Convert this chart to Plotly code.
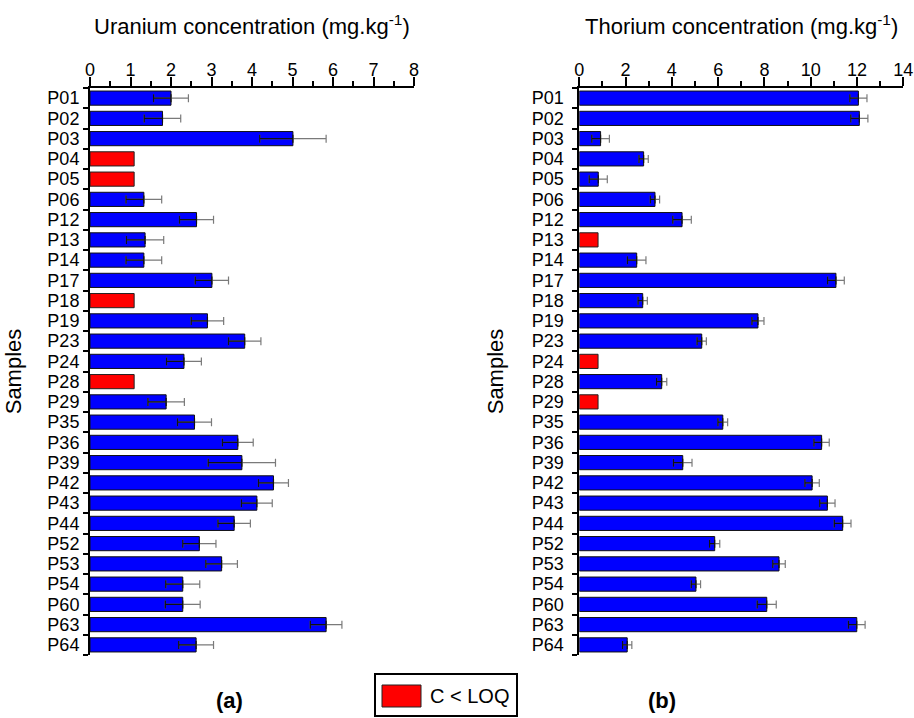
import plotly.graph_objects as go

# Sample identifiers (top to bottom)
samples = ["P01", "P02", "P03", "P04", "P05", "P06", "P12", "P13", "P14", "P17",
           "P18", "P19", "P23", "P24", "P28", "P29", "P35", "P36", "P39", "P42",
           "P43", "P44", "P52", "P53", "P54", "P60", "P63", "P64"]

# Uranium concentration (mg/kg) and uncertainty; None marks C < LOQ
uranium = [2.00, 1.79, 5.01, 1.09, 1.09, 1.33, 2.63, 1.36, 1.33, 3.01,
           1.09, 2.90, 3.82, 2.32, 1.09, 1.88, 2.58, 3.65, 3.75, 4.53,
           4.12, 3.56, 2.70, 3.25, 2.29, 2.29, 5.83, 2.62]
uranium_err = [0.43, 0.45, 0.82, None, None, 0.44, 0.42, 0.46, 0.44, 0.41,
               None, 0.40, 0.40, 0.43, None, 0.45, 0.42, 0.38, 0.83, 0.37,
               0.38, 0.40, 0.41, 0.39, 0.42, 0.43, 0.39, 0.43]

# Thorium concentration (mg/kg) and uncertainty; None marks C < LOQ
thorium = [12.06, 12.10, 0.92, 2.78, 0.82, 3.27, 4.44, 0.81, 2.48, 11.09,
           2.74, 7.72, 5.29, 0.81, 3.56, 0.81, 6.20, 10.47, 4.47, 10.06,
           10.72, 11.38, 5.85, 8.63, 5.04, 8.10, 11.99, 2.07]
thorium_err = [0.37, 0.37, 0.38, 0.20, 0.39, 0.20, 0.40, None, 0.40, 0.36,
               0.20, 0.26, 0.20, None, 0.22, None, 0.21, 0.33, 0.40, 0.31,
               0.33, 0.36, 0.22, 0.27, 0.20, 0.41, 0.36, 0.20]

FONT = "Liberation Sans, Arial, sans-serif"
W, H = 914, 718
n = len(samples)
pos = list(range(n))
bounds_all = [i - 0.5 for i in range(n + 1)]
bounds_inner = [i + 0.5 for i in range(n - 1)]

fig = go.Figure()


def add_panel(values, errs, xa, ya):
    ok = [i for i, e in enumerate(errs) if e is not None]
    low = [i for i, e in enumerate(errs) if e is None]
    fig.add_trace(go.Bar(
        x=[values[i] for i in ok], y=[pos[i] for i in ok], orientation="h",
        width=0.7, marker=dict(color="#0000FF", line=dict(color="#111111", width=1)),
        error_x=dict(type="data", array=[errs[i] for i in ok], color="#7a7a7a",
                     thickness=1.2, width=4),
        xaxis=xa, yaxis=ya, showlegend=False, hoverinfo="x+y"))
    # darker inner half of the error bars (over the filled bar)
    fig.add_trace(go.Scatter(
        x=[values[i] for i in ok], y=[pos[i] for i in ok], mode="markers",
        marker=dict(size=1, opacity=0),
        error_x=dict(type="data", symmetric=False, array=[0] * len(ok),
                     arrayminus=[errs[i] for i in ok], color="#111111",
                     thickness=1.2, width=4),
        xaxis=xa, yaxis=ya, showlegend=False, hoverinfo="skip"))
    fig.add_trace(go.Bar(
        x=[values[i] for i in low], y=[pos[i] for i in low], orientation="h",
        width=0.7, marker=dict(color="#FF0000", line=dict(color="#222222", width=1)),
        xaxis=xa, yaxis=ya, showlegend=False, hoverinfo="x+y"))


add_panel(uranium, uranium_err, "x", "y")
add_panel(thorium, thorium_err, "x2", "y2")

dom_y = [1 - 655 / H, 1 - 88 / H]
dom_a = [90 / W, 414 / W]
dom_b = [579.3 / W, 903.3 / W]

xcommon = dict(side="top", showline=True, linecolor="black", linewidth=2,
               ticks="outside", ticklen=9, tickwidth=1.5, tickcolor="black",
               ticklabelstandoff=-6,
               showgrid=False, zeroline=False, fixedrange=True, automargin=False,
               tickfont=dict(family=FONT, size=18, color="black"))


def ycommon(standoff_labels, standoff_title):
    return dict(range=[n - 0.5, -0.5], autorange=False, showline=True,
                linecolor="black", linewidth=2, showgrid=False, zeroline=False,
                tickvals=pos, ticktext=samples, ticks="",
                ticklabelstandoff=standoff_labels,
                tickfont=dict(family=FONT, size=18, color="black"),
                minor=dict(tickvals=bounds_all, ticks="outside", ticklen=5,
                           tickwidth=1.5, tickcolor="black", showgrid=False),
                title=dict(text="Samples",
                           font=dict(family=FONT, size=22, color="black"),
                           standoff=standoff_title),
                automargin=False, fixedrange=True)


ygrid = dict(range=[n - 0.5, -0.5], autorange=False, showline=False,
             tickvals=bounds_inner, ticks="inside", ticklen=5, tickwidth=1.5,
             tickcolor="black", showticklabels=False, showgrid=True,
             gridcolor="#d0d0d0", griddash="dot", gridwidth=1, zeroline=False,
             automargin=False, fixedrange=True)

fig.update_layout(
    width=W, height=H, margin=dict(l=0, r=0, t=0, b=0, autoexpand=False),
    paper_bgcolor="white", plot_bgcolor="white", barmode="overlay",
    xaxis=dict(domain=dom_a, anchor="y", range=[0, 8], dtick=1,
               minor=dict(dtick=0.5, ticks="outside", ticklen=5, tickwidth=1.5,
                          tickcolor="black"), **xcommon),
    xaxis2=dict(domain=dom_b, anchor="y2", range=[0, 14], dtick=2,
                minor=dict(dtick=1, ticks="outside", ticklen=5, tickwidth=1.5,
                           tickcolor="black"), **xcommon),
    yaxis=dict(domain=dom_y, anchor="x", **ycommon(5, 20)),
    yaxis2=dict(domain=dom_y, anchor="x2", **ycommon(10, 22)),
    yaxis3=dict(overlaying="y", anchor="x", **ygrid),
    yaxis4=dict(overlaying="y2", anchor="x2", **ygrid),
)

# panel titles
for dom, label in [(dom_a, "Uranium"), (dom_b, "Thorium")]:
    fig.add_annotation(x=(dom[0] + dom[1]) / 2, y=1 - 25 / H, xref="paper", yref="paper",
                       xanchor="center", yanchor="middle",
                       text=label + " concentration (mg.kg<sup>-1</sup>)", showarrow=False,
                       font=dict(family=FONT, size=22, color="black"))

# panel letters
for xc, letter in [(230, "(a)"), (662, "(b)")]:
    fig.add_annotation(x=xc / W, y=1 - 700 / H, xref="paper", yref="paper",
                       xanchor="center", yanchor="middle", text="<b>" + letter + "</b>",
                       showarrow=False, font=dict(family=FONT, size=22, color="black"))

# key for the below-LOQ bars
fig.add_shape(type="rect", xref="paper", yref="paper", x0=375 / W, x1=517 / W,
              y0=1 - 716 / H, y1=1 - 674 / H, line=dict(color="black", width=2),
              fillcolor="white")
fig.add_shape(type="rect", xref="paper", yref="paper", x0=382 / W, x1=421 / W,
              y0=1 - 707 / H, y1=1 - 685 / H, line=dict(color="#222222", width=1),
              fillcolor="#FF0000")
fig.add_annotation(x=428 / W, y=1 - 696 / H, xref="paper", yref="paper", text="C &lt; LOQ",
                   xanchor="left", yanchor="middle", showarrow=False,
                   font=dict(family=FONT, size=20, color="black"))

fig.write_html("out.html")
